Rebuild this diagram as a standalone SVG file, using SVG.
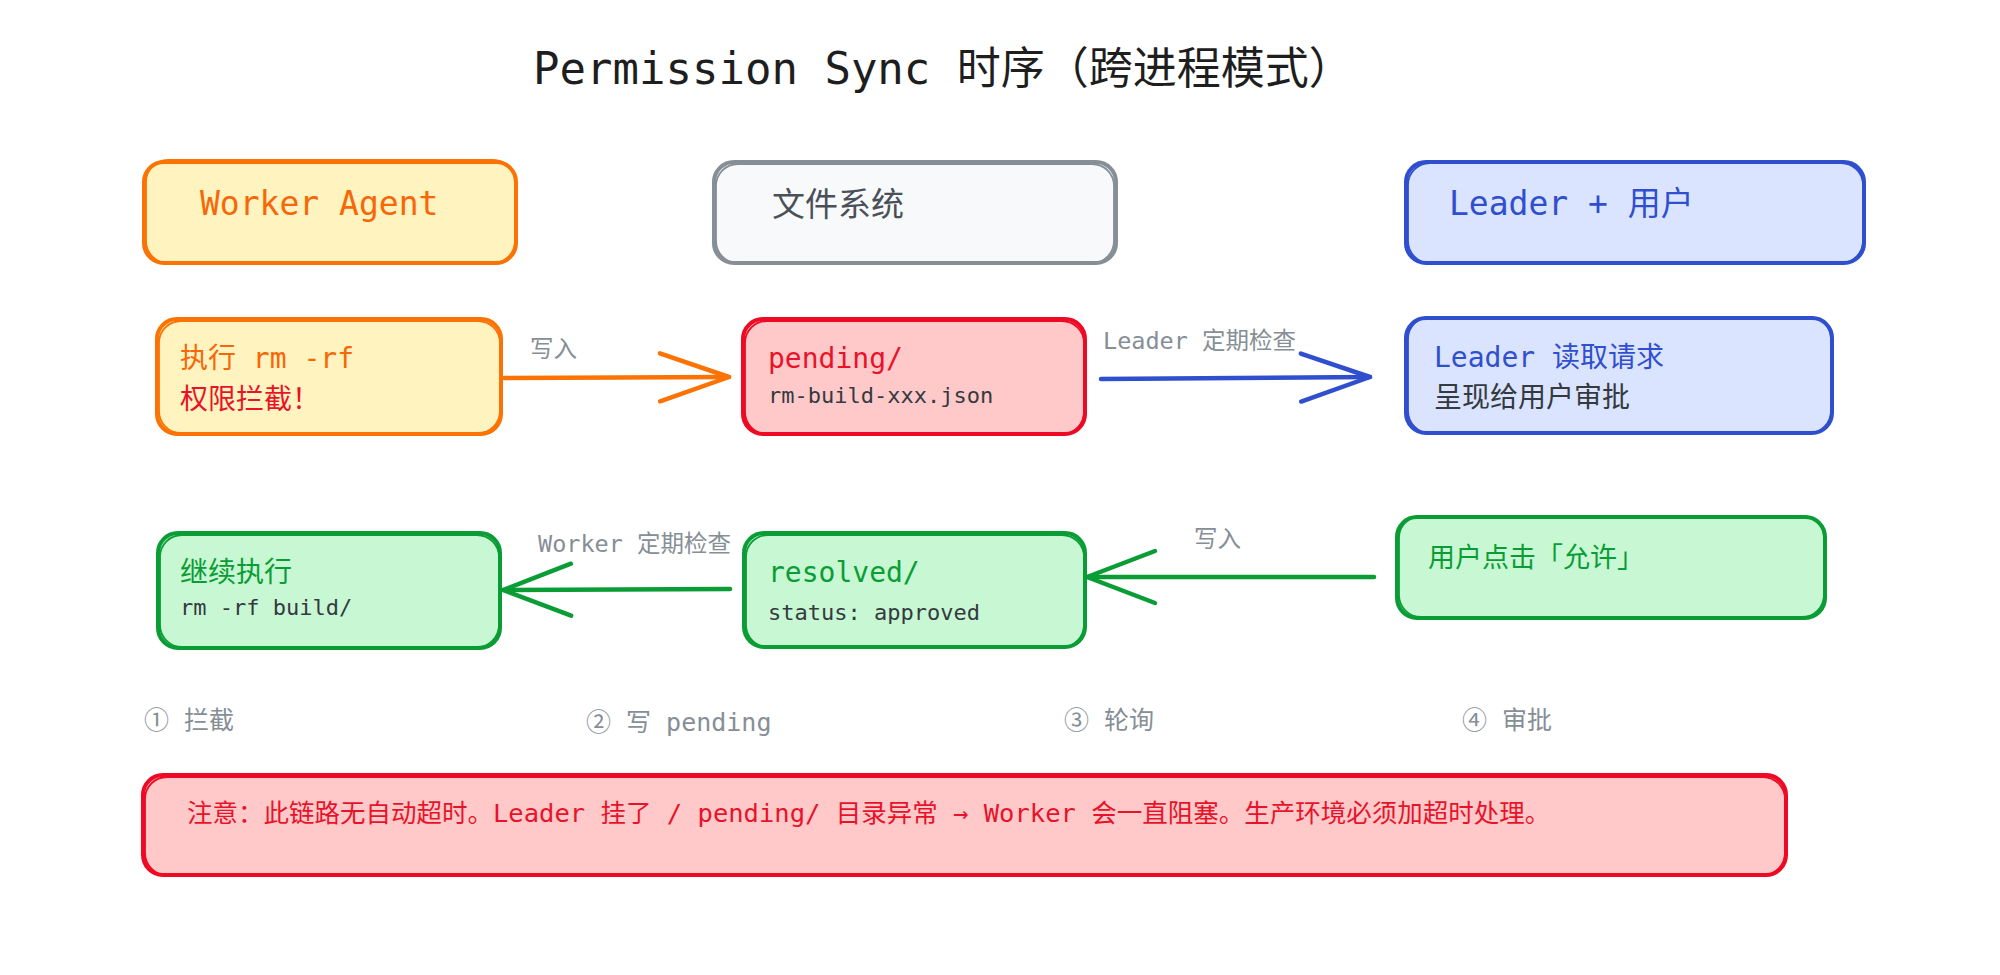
<svg xmlns="http://www.w3.org/2000/svg" width="2000" height="975" viewBox="0 0 2000 975">
<defs>
<style>
.t{font-family:"DejaVu Sans Mono","Noto Sans CJK SC",monospace;}
.box{stroke-width:4;stroke-linejoin:round}
.sk{fill:none;stroke-width:1.8}
.or{stroke:#fb7305}.orf{fill:#fff3bf}
.gr{stroke:#868e96}.grf{fill:#f8f9fa}
.bl{stroke:#2f4fce}.blf{fill:#dbe4ff}
.rd{stroke:#ee0a24}.rdf{fill:#ffc9c9}
.gn{stroke:#0b9d35}.gnf{fill:#c8f7d4}
.conn{fill:none;stroke-width:4.5;stroke-linecap:round}
.lbl{font-size:23.5px;fill:#868e96}
.step{font-size:25px;fill:#868e96}
.h{font-size:33px}
.m{font-size:28px}
.s{font-size:22px;fill:#343a40}
</style>
<marker id="ahO" viewBox="-74 -30 80 60" markerWidth="80" markerHeight="60" refX="0" refY="0" orient="auto" markerUnits="userSpaceOnUse"><path d="M-69,-24 L0,0 L-69,24" fill="none" stroke="#fb7305" stroke-width="4.5" stroke-linecap="round" stroke-linejoin="round"/></marker>
<marker id="ahB" viewBox="-74 -30 80 60" markerWidth="80" markerHeight="60" refX="0" refY="0" orient="auto" markerUnits="userSpaceOnUse"><path d="M-69,-24 L0,0 L-69,24" fill="none" stroke="#2f4fce" stroke-width="4.5" stroke-linecap="round" stroke-linejoin="round"/></marker>
<marker id="ahG" viewBox="-74 -30 80 60" markerWidth="80" markerHeight="60" refX="0" refY="0" orient="auto" markerUnits="userSpaceOnUse"><path d="M-68,-26 L0,0 L-68,26" fill="none" stroke="#0b9d35" stroke-width="4.5" stroke-linecap="round" stroke-linejoin="round"/></marker>
</defs>
<rect width="2000" height="975" fill="#ffffff"/>

<text class="t" x="533" y="84" font-size="44" fill="#1e1e1e">Permission Sync 时序（跨进程模式）</text>

<g id="connectors">
<path class="conn or" d="M504,378 L729,377" marker-end="url(#ahO)"/>
<path class="conn bl" d="M1101,379 L1370,377" marker-end="url(#ahB)"/>
<path class="conn gn" d="M1374,577 L1087,577" marker-end="url(#ahG)"/>
<path class="conn gn" d="M730,589 L503,590" marker-end="url(#ahG)"/>
<text class="t lbl" x="530" y="357">写入</text>
<text class="t lbl" x="1103" y="349">Leader 定期检查</text>
<text class="t lbl" x="1194" y="547">写入</text>
<text class="t lbl" x="538" y="552">Worker 定期检查</text>
</g>

<g id="worker-header">
<rect class="box or orf" x="144" y="162" width="372" height="101" rx="20"/>
<rect class="sk or" x="146" y="160" width="369" height="103" rx="22"/>
<text class="t h" x="200" y="215" fill="#f76707">Worker Agent</text>
</g>

<g id="fs-header">
<rect class="box gr grf" x="714" y="162" width="402" height="101" rx="20"/>
<rect class="sk gr" x="716" y="164" width="398" height="99" rx="22"/>
<text class="t h" x="772" y="216" fill="#495057">文件系统</text>
</g>

<g id="leader-header">
<rect class="box bl blf" x="1406" y="162" width="458" height="101" rx="20"/>
<rect class="sk bl" x="1408" y="163" width="455" height="100" rx="22"/>
<text class="t h" x="1449" y="215" fill="#2f4fce">Leader + 用户</text>
</g>

<g id="intercept">
<rect class="box or orf" x="157" y="319" width="344" height="115" rx="20"/>
<rect class="sk or" x="159" y="321" width="341" height="112" rx="22"/>
<text class="t m" x="180" y="368" fill="#f76707">执行 rm -rf</text>
<text class="t m" x="180" y="409" fill="#e8132a">权限拦截！</text>
</g>

<g id="pending">
<rect class="box rd rdf" x="743" y="319" width="342" height="115" rx="20"/>
<rect class="sk rd" x="745" y="321" width="339" height="113" rx="22"/>
<text class="t m" x="768" y="368" fill="#e8132a">pending/</text>
<text class="t s" x="768" y="403">rm-build-xxx.json</text>
</g>

<g id="leader-read">
<rect class="box bl blf" x="1406" y="318" width="426" height="115" rx="20"/>
<rect class="sk bl" x="1408" y="317" width="423" height="116" rx="22"/>
<text class="t m" x="1434" y="367" fill="#2f4fce">Leader 读取请求</text>
<text class="t m" x="1434" y="407" fill="#343a40">呈现给用户审批</text>
</g>

<g id="continue">
<rect class="box gn gnf" x="158" y="533" width="342" height="115" rx="20"/>
<rect class="sk gn" x="160" y="535" width="339" height="112" rx="22"/>
<text class="t m" x="180" y="582" fill="#0b9d35">继续执行</text>
<text class="t s" x="180" y="615">rm -rf build/</text>
</g>

<g id="resolved">
<rect class="box gn gnf" x="744" y="533" width="341" height="114" rx="20"/>
<rect class="sk gn" x="746" y="535" width="338" height="112" rx="22"/>
<text class="t m" x="768" y="582" fill="#0b9d35">resolved/</text>
<text class="t s" x="768" y="620">status: approved</text>
</g>

<g id="user-click">
<rect class="box gn gnf" x="1397" y="517" width="428" height="101" rx="20"/>
<rect class="sk gn" x="1399" y="516" width="425" height="101" rx="22"/>
<text class="t" x="1428" y="567" font-size="27" fill="#0b9d35">用户点击「允许」</text>
</g>

<g id="steps">
<text class="t step" x="144" y="729">① 拦截</text>
<text class="t step" x="586" y="731">② 写 pending</text>
<text class="t step" x="1064" y="729">③ 轮询</text>
<text class="t step" x="1462" y="729">④ 审批</text>
</g>

<g id="note">
<rect class="box rd rdf" x="143" y="775" width="1643" height="100" rx="20"/>
<rect class="sk rd" x="145" y="777" width="1640" height="98" rx="22"/>
<text class="t" x="187" y="822" font-size="25.5" fill="#e8132a">注意：此链路无自动超时。Leader 挂了 / pending/ 目录异常 → Worker 会一直阻塞。生产环境必须加超时处理。</text>
</g>
</svg>
